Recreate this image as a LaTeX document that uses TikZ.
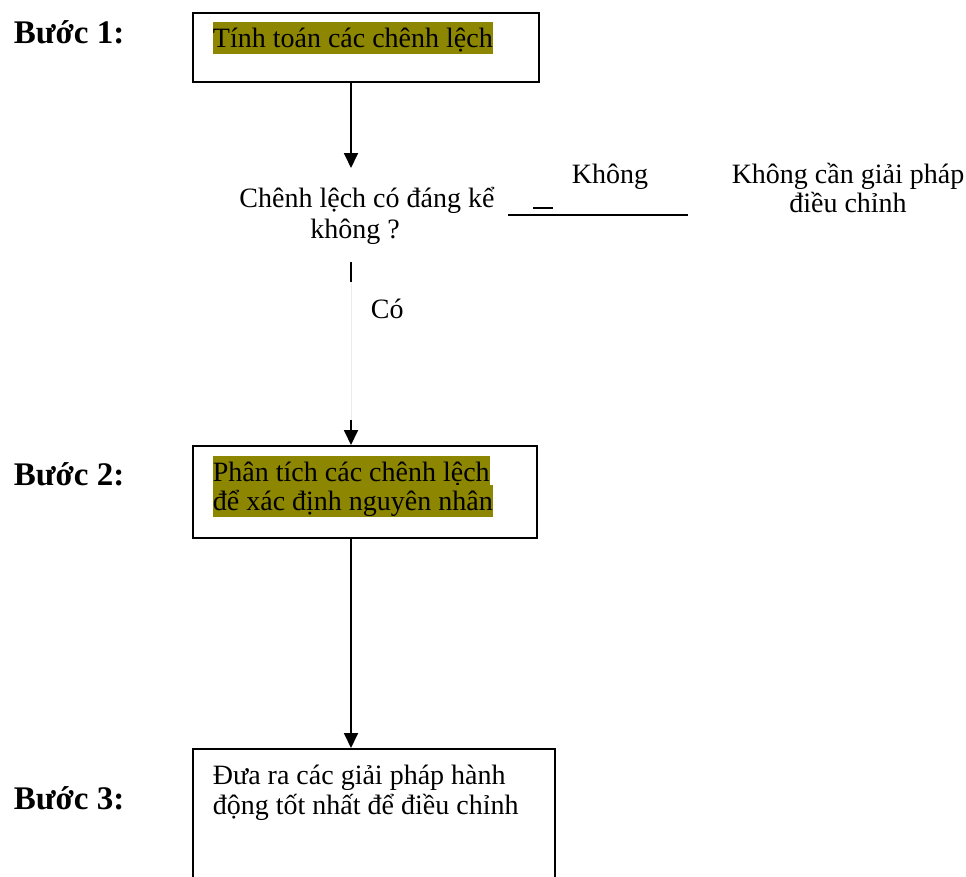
\documentclass[tikz,border=0pt]{standalone}
\usepackage{fontspec}
\setmainfont{Liberation Serif}
\usetikzlibrary{arrows.meta,positioning}

\begin{document}
\begin{tikzpicture}[x=1pt,y=-1pt,>={Triangle[length=15pt,width=14pt]},line width=1.8pt,
  every node/.style={font=\fontsize{28pt}{30pt}\selectfont,inner sep=0pt},
  box/.style={draw,rectangle,anchor=north west},
  hl/.style={fill=olive,anchor=base west,text height=25pt,text depth=7pt},
  stepname/.style={font=\fontsize{33pt}{35pt}\selectfont\bfseries,anchor=base west}]
  \useasboundingbox (0,0) rectangle (966,876);
  \coordinate (spine) at (351,0);
  \node[box,minimum width=346pt,minimum height=69pt] (box1) at (192,12) {};
  \node[box,minimum width=344pt,minimum height=92pt] (box2) at (192,445) {};
  \node[box,minimum width=362pt,minimum height=160pt] (box3) at (192,748) {};
  \node[stepname] (step1) at (13,43) {Bước 1:};
  \node[stepname] (step2) at (13,485) {Bước 2:};
  \node[stepname] (step3) at (13,809) {Bước 3:};
  \node[hl] (calc) at (212,47) {Tính toán các chênh lệch};
  \node[hl] (cause1) at (212,481) {Phân tích các chênh lệch};
  \node[hl] (cause2) at (212,510) {để xác định nguyên nhân};
  \node[anchor=base west] (act1) at (212,784) {Đưa ra các giải pháp hành};
  \node[anchor=base west] (act2) at (212,814) {động tốt nhất để điều chỉnh};
  \node[anchor=base,text height=25pt,outer ysep=14pt] (ask1) at (367,207) {Chênh lệch có đáng kể};
  \node[anchor=base] (ask2) at (355,238) {không ?};
  \node[anchor=base] (no) at (610,183) {Không};
  \node[anchor=base] (none1) at (848,183) {Không cần giải pháp};
  \node[anchor=base] (none2) at (848,212) {điều chỉnh};
  \node[anchor=base west] (yes) at (370,318) {Có};
  \coordinate (n1) at (508,215);
  \coordinate (n2) at (688,215);
  \coordinate (d1) at (533,208);
  \coordinate (d2) at (553,208);
  \coordinate (y1) at (351,262);
  \coordinate (y2) at (351,282);
  \coordinate (y3) at (351,420);
  \draw[->] (box1.south -| spine) -- (ask1.north -| spine);
  \draw (n1) -- (n2);
  \draw (d1) -- (d2);
  \draw (y1) -- (y2);
  \draw[line width=0.5pt,black!8] (y2) -- (y3);
  \draw[->] (y3) -- (box2.north -| spine);
  \draw[->] (box2.south -| spine) -- (box3.north -| spine);
\end{tikzpicture}
\end{document}
